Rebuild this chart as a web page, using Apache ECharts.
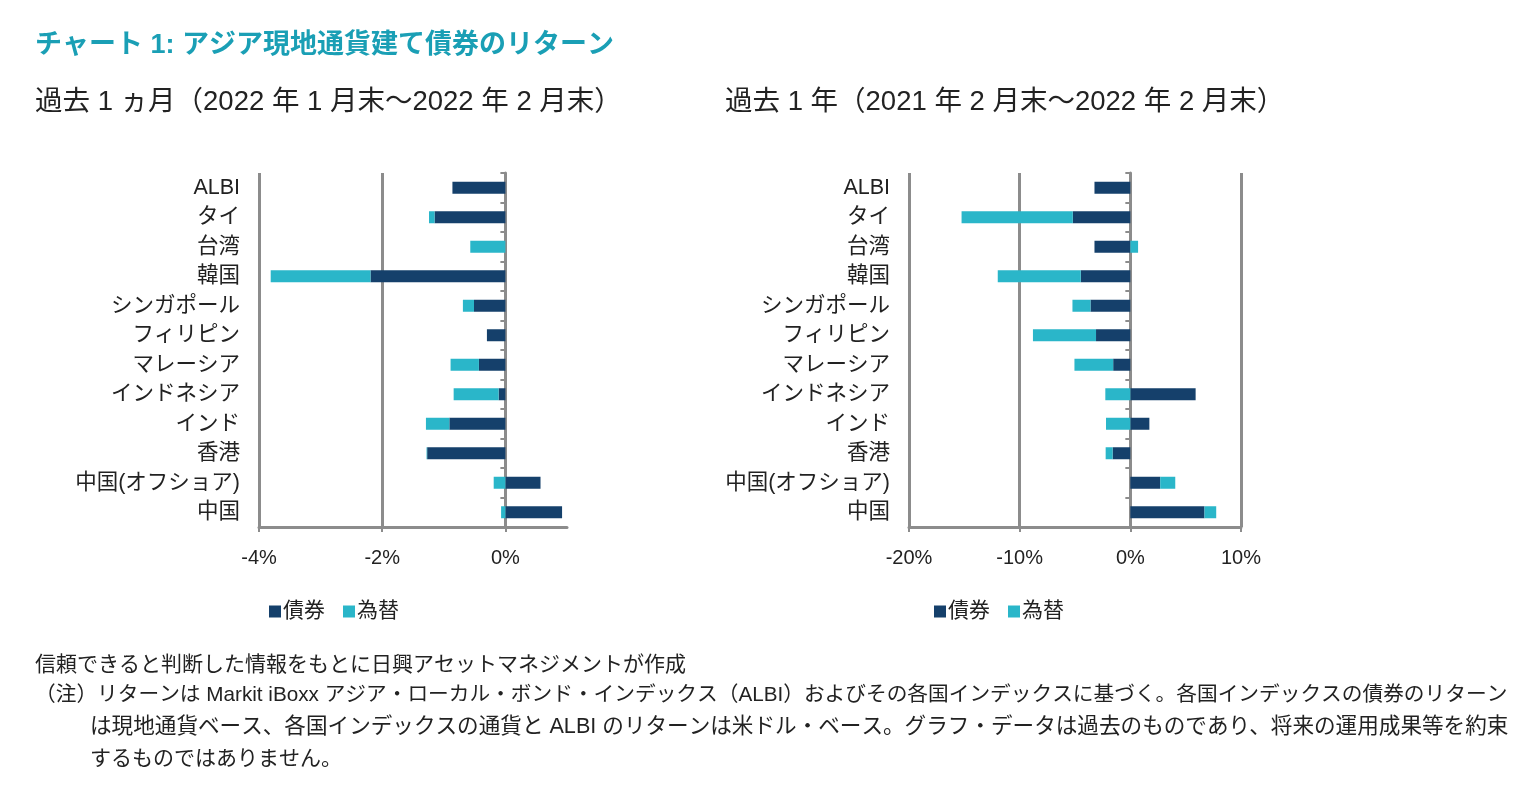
<!DOCTYPE html>
<html>
<head>
<meta charset="utf-8">
<script src="https://cdn.jsdelivr.net/npm/echarts@6/dist/echarts.min.js"></script>
<style>
html,body{margin:0;padding:0;background:#fff;}
#c{width:1530px;height:792px;}
</style>
</head>
<body>
<div id="c"></div>
<script>
// ---- data ----
const categories = ['ALBI','タイ','台湾','韓国','シンガポール','フィリピン','マレーシア','インドネシア','インド','香港','中国(オフショア)','中国'];
const seriesNames = ['債券','為替'];
// 過去1ヵ月 (%)
const bondMonth = [-0.86,-1.15,0,-2.19,-0.51,-0.30,-0.43,-0.11,-0.91,-1.27,0.57,0.92];
const fxMonth   = [0,-0.09,-0.57,-1.62,-0.18,0,-0.46,-0.73,-0.38,-0.01,-0.19,-0.07];
// 過去1年 (%)
const bondYear = [-3.24,-5.2,-3.24,-4.48,-3.6,-3.1,-1.55,5.9,1.72,-1.6,2.7,6.7];
const fxYear   = [0,-10.05,0.7,-7.5,-1.63,-5.7,-3.5,-2.26,-2.2,-0.63,1.36,1.06];

const titleText = 'チャート 1: アジア現地通貨建て債券のリターン';
const subLeft = '過去 1 ヵ月（2022 年 1 月末～2022 年 2 月末）';
const subRight = '過去 1 年（2021 年 2 月末～2022 年 2 月末）';
const notes = [
  '信頼できると判断した情報をもとに日興アセットマネジメントが作成',
  '（注）リターンは Markit iBoxx アジア・ローカル・ボンド・インデックス（ALBI）およびその各国インデックスに基づく。各国インデックスの債券のリターン',
  'は現地通貨ベース、各国インデックスの通貨と ALBI のリターンは米ドル・ベース。グラフ・データは過去のものであり、将来の運用成果等を約束',
  'するものではありません。'
];

// ---- styles ----
const FONT = '"Liberation Sans", "Noto Sans CJK JP", sans-serif';
const NAVY = '#15406b';
const TEAL = '#2ab6c9';
const GRAY = '#8c8c8c';
const TXT = '#222';

function xAxisCfg(gridIndex, min, max, interval, showMax) {
  return {
    type: 'value', gridIndex, min, max, interval,
    axisLine: { show: true, onZero: false, lineStyle: { color: GRAY, width: 3 } },
    axisTick: { show: true, length: 5, lineStyle: { color: GRAY, width: 2 } },
    axisLabel: { formatter: v => v + '%', color: TXT, fontSize: 20, fontFamily: FONT, margin: 21, showMaxLabel: showMax },
    splitLine: { show: true, showMaxLine: showMax, lineStyle: { color: GRAY, width: 3 } }
  };
}
function yAxisCfg(gridIndex) {
  return {
    type: 'category', gridIndex, data: categories, inverse: true,
    axisLine: { show: true, onZero: true, lineStyle: { color: GRAY, width: 3 } },
    axisTick: { show: true, length: 5, lineStyle: { color: GRAY, width: 2 } },
    axisLabel: { color: TXT, fontSize: 21.5, fontFamily: FONT, margin: 19 }
  };
}
function barSeries(name, data, idx, stack, color) {
  return {
    name, type: 'bar', data, xAxisIndex: idx, yAxisIndex: idx, stack,
    barWidth: 12, itemStyle: { color }, emphasis: { disabled: true }
  };
}

const graphics = [
  { type: 'text', left: 35, top: 32, style: { text: titleText, fill: '#1a9fb5', font: 'bold 27px ' + FONT } },
  { type: 'text', left: 35, top: 89, style: { text: subLeft, fill: TXT, font: '27.5px ' + FONT } },
  { type: 'text', left: 725, top: 89, style: { text: subRight, fill: TXT, font: '27.5px ' + FONT } },
  { type: 'text', left: 35, top: 655, style: { text: notes[0], fill: TXT, font: '21px ' + FONT } },
  { type: 'text', left: 35, top: 685, style: { text: notes[1], fill: TXT, font: '20.7px ' + FONT } },
  { type: 'text', left: 90, top: 716, style: { text: notes[2], fill: TXT, font: '21.6px ' + FONT } },
  { type: 'text', left: 90, top: 749, style: { text: notes[3], fill: TXT, font: '21px ' + FONT } }
];

const chart = echarts.init(document.getElementById('c'), null, { renderer: 'canvas' });
chart.setOption({
  animation: false,
  backgroundColor: '#fff',
  textStyle: { fontFamily: FONT },
  graphic: graphics,
  legend: [
    { data: seriesNames, left: 264, top: 596, itemWidth: 12, itemHeight: 12, itemGap: 18,
      textStyle: { fontSize: 21, color: TXT, fontFamily: FONT, padding: [0,0,0,-3] }, icon: 'rect', selectedMode: false },
    { data: seriesNames, left: 929, top: 596, itemWidth: 12, itemHeight: 12, itemGap: 18,
      textStyle: { fontSize: 21, color: TXT, fontFamily: FONT, padding: [0,0,0,-3] }, icon: 'rect', selectedMode: false }
  ],
  grid: [
    { left: 259, width: 308, top: 173, height: 354, containLabel: false },
    { left: 909, width: 332, top: 173, height: 354, containLabel: false }
  ],
  xAxis: [ xAxisCfg(0, -4, 1, 2, false), xAxisCfg(1, -20, 10, 10, true) ],
  yAxis: [ yAxisCfg(0), yAxisCfg(1) ],
  series: [
    barSeries(seriesNames[0], bondMonth, 0, 'm', NAVY),
    barSeries(seriesNames[1], fxMonth, 0, 'm', TEAL),
    barSeries(seriesNames[0], bondYear, 1, 'y', NAVY),
    barSeries(seriesNames[1], fxYear, 1, 'y', TEAL)
  ]
});
</script>
</body>
</html>
